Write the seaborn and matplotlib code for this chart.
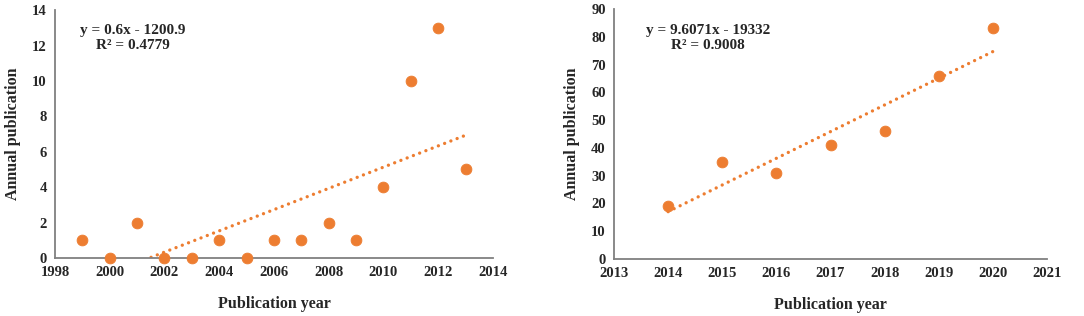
import numpy as np
import pandas as pd
import matplotlib
matplotlib.use("Agg")
import matplotlib.pyplot as plt
import seaborn as sns

# Data
years_a = [1999, 2000, 2001, 2002, 2003, 2004, 2005, 2006, 2007, 2008, 2009, 2010, 2011, 2012, 2013]
counts_a = [1, 0, 2, 0, 0, 1, 0, 1, 1, 2, 1, 4, 10, 13, 5]
years_b = [2014, 2015, 2016, 2017, 2018, 2019, 2020]
counts_b = [19, 35, 31, 41, 46, 66, 83]

eq_a = "y = 0.6x - 1200.9\nR² = 0.4779"
eq_b = "y = 9.6071x - 19332\nR² = 0.9008"

orange = "#ED7D31"
grey = "#808080"

sns.set_style("white")
plt.rcParams['font.family'] = ['Liberation Serif', 'DejaVu Serif']
plt.rcParams['font.weight'] = 'bold'

fig = plt.figure(figsize=(10.84, 3.16), dpi=100)
ax1 = fig.add_axes([0.0507, 0.1835, 0.4041, 0.7845])
ax2 = fig.add_axes([0.5664, 0.1804, 0.3995, 0.7911])

panels = [
    (ax1, years_a, counts_a, eq_a, (1998, 2014), np.arange(1998, 2015, 2), (0, 14), np.arange(0, 15, 2), 133),
    (ax2, years_b, counts_b, eq_b, (2013, 2021), np.arange(2013, 2022, 1), (0, 90), np.arange(0, 91, 10), 708),
]

for ax, xs, ys, eq, xlim, xt, ylim, yt, tx in panels:
    df = pd.DataFrame({"Publication year": xs, "Annual publication": ys})
    sns.regplot(data=df, x="Publication year", y="Annual publication", ax=ax,
                scatter=False, ci=None, color=orange,
                line_kws=dict(linewidth=2.4, linestyle=(0, (0.01, 2.0)),
                              dash_capstyle="round"))
    sns.scatterplot(data=df, x="Publication year", y="Annual publication", ax=ax,
                    color=orange, edgecolor=orange, s=60, zorder=3, clip_on=False)
    ax.set_xlim(*xlim)
    ax.set_ylim(*ylim)
    ax.set_xticks(xt)
    ax.set_yticks(yt)
    ax.tick_params(labelsize=10.5, length=4, width=1.2, color=grey, direction="out", pad=2)
    for lab in ax.get_xticklabels() + ax.get_yticklabels():
        lab.set_fontweight("bold")
    for s in ["top", "right"]:
        ax.spines[s].set_visible(False)
    for s in ["left", "bottom"]:
        ax.spines[s].set_color(grey)
        ax.spines[s].set_linewidth(1.3)
    ax.set_xlabel("Publication year", fontsize=11.5, fontweight="bold", labelpad=12)
    ax.set_ylabel("Annual publication", fontsize=11.5, fontweight="bold", labelpad=8)
    fig.text(tx / 1084, 1 - 38 / 316, eq, ha="center", va="center",
             fontsize=11, fontweight="bold", linespacing=1.25)

fig.savefig("out.png", dpi=100)
